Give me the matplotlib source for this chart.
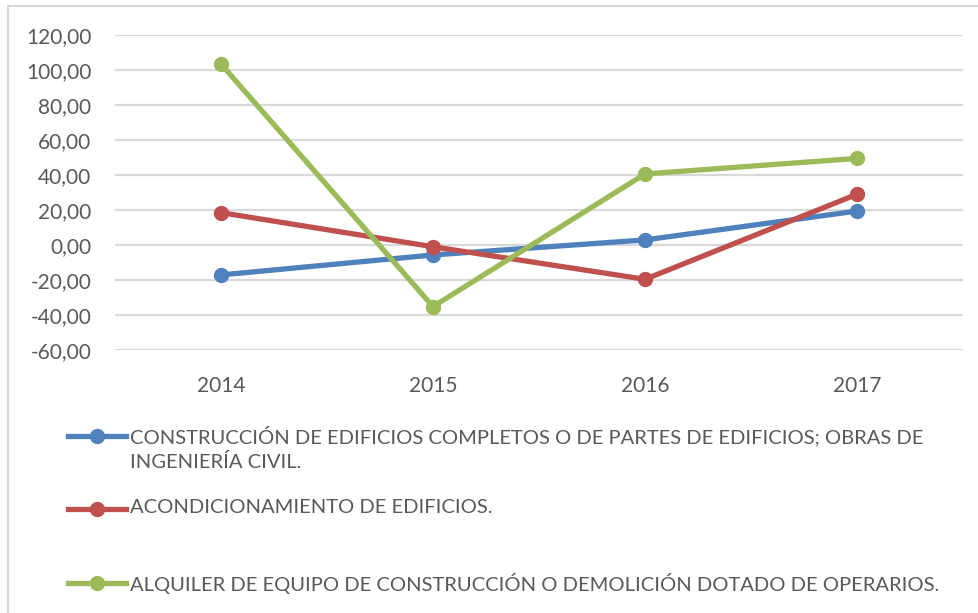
import matplotlib.pyplot as plt
from matplotlib.lines import Line2D
from matplotlib.patches import Rectangle

years = ["2014", "2015", "2016", "2017"]
construccion = [-17.1, -5.7, 2.9, 19.4]
acondicionamiento = [18.5, -1.0, -19.6, 29.0]
alquiler = [103.4, -35.2, 40.6, 49.5]

series_names = [
    "CONSTRUCCIÓN DE EDIFICIOS COMPLETOS O DE PARTES DE EDIFICIOS; OBRAS DE\nINGENIERÍA CIVIL.",
    "ACONDICIONAMIENTO DE EDIFICIOS.",
    "ALQUILER DE EQUIPO DE CONSTRUCCIÓN O DEMOLICIÓN DOTADO DE OPERARIOS.",
]
colors = ["#4F81BD", "#C0504D", "#9BBB59"]
yticks = [-60, -40, -20, 0, 20, 40, 60, 80, 100, 120]

plt.rcParams['font.family'] = ['Lato', 'DejaVu Sans']
txt = "#595959"

W, H = 979, 613
fig = plt.figure(figsize=(W / 100, H / 100), dpi=100)
ax = fig.add_axes([115 / W, 1 - 350 / H, (963 - 115) / W, (350 - 35) / H])

# chart border
fig.add_artist(Rectangle((8 / W, -0.05), 1.2, 1 - 6 / H + 0.05, transform=fig.transFigure,
                         fill=False, edgecolor="#D9D9D9", linewidth=1.5))

x = [0.5 + i for i in range(len(years))]
for vals, c in zip([construccion, acondicionamiento, alquiler], colors):
    ax.plot(x, vals, color=c, linewidth=3.8, marker="o", markersize=10,
            solid_capstyle="round", zorder=3)

ax.set_xlim(0, 4)
ax.set_ylim(-60, 120)
ax.set_yticks(yticks)
ax.set_yticklabels([f"{v:.2f}".replace(".", ",") for v in yticks])
ax.set_xticks(x)
ax.set_xticklabels(years)
ax.grid(axis="y", color="#D9D9D9", linewidth=1.6)
ax.set_axisbelow(True)
for s in ax.spines.values():
    s.set_visible(False)
ax.tick_params(axis="both", length=0, labelsize=15, colors=txt)
ax.tick_params(axis="y", pad=17)
ax.tick_params(axis="x", pad=19)

# legend, laid out like the original
rows = [436, 509, 583]
for name, c, yy in zip(series_names, colors, rows):
    fy = 1 - yy / H
    fig.add_artist(Line2D([68 / W, 126 / W], [fy, fy], transform=fig.transFigure,
                          color=c, linewidth=3.8, marker=None))
    fig.add_artist(Line2D([97 / W], [fy], transform=fig.transFigure,
                          color=c, marker="o", markersize=10))
    fig.text(130 / W, fy + 10 / H, name, color=txt, fontsize=14.5, va="top", ha="left",
             linespacing=1.4)

fig.savefig("out.png", dpi=100)
